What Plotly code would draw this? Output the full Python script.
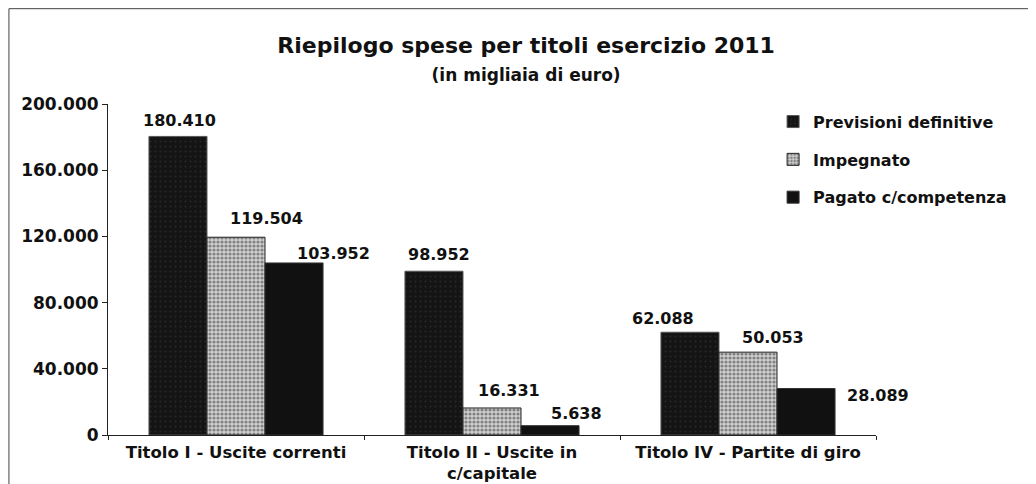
import plotly.graph_objects as go

# Data (in migliaia di euro)
categories = ["Titolo I - Uscite correnti", "Titolo II - Uscite in<br>c/capitale", "Titolo IV - Partite di giro"]
series_names = ["Previsioni definitive", "Impegnato", "Pagato c/competenza"]
previsioni = [180410, 98952, 62088]
impegnato = [119504, 16331, 50053]
pagato = [103952, 5638, 28089]

FONT = "DejaVu Sans"

# label nudges (px) as placed by hand in the original: (dx from bar centre, dy above bar top)
label_nudges = [
    [(2, 16), (5, 17), (-27, 14)],
    [(30, 19), (17, 17), (25, 15)],
    [(39, 9), (26, 12), (72, -7)],
]

PLOT_W = 768
BARGAP = 0.32
bar_px = PLOT_W / len(categories) * (1 - BARGAP) / 3

fig = go.Figure()

fig.add_trace(go.Bar(
    name=series_names[0],
    x=categories, y=previsioni,
    marker=dict(color="#161616", line=dict(color="#555", width=1),
                pattern=dict(shape=".", fgcolor="#3a3a3a", bgcolor="#141414", size=5, solidity=0.15)),
    legendgroup="a",
))
fig.add_trace(go.Bar(
    name=series_names[1],
    x=categories, y=impegnato,
    marker=dict(color="#bdbdbd", line=dict(color="#222", width=1),
                pattern=dict(shape=".", fgcolor="#333333", bgcolor="#cfcfcf", size=4, solidity=0.5)),
    legendgroup="b",
))
fig.add_trace(go.Bar(
    name=series_names[2],
    x=categories, y=pagato,
    marker=dict(color="#111111", line=dict(color="#333", width=1)),
    legendgroup="c",
))

# value labels
for s, values in enumerate([previsioni, impegnato, pagato]):
    for c, (cat, v) in enumerate(zip(categories, values)):
        dx, dy = label_nudges[s][c]
        fig.add_annotation(
            x=cat, y=v, xref="x", yref="y",
            text=f"{v:,}".replace(",", "."),
            showarrow=False, xanchor="center", yanchor="middle",
            xshift=(s - 1) * bar_px + dx, yshift=dy,
            font=dict(family=FONT, size=16, color="#111", weight="bold"),
        )

# the page body adds an 8px margin, so the figure is drawn slightly smaller
fig.update_layout(
    width=1028, height=476,
    separators=",.",
    barmode="group",
    bargap=BARGAP,
    bargroupgap=0,
    plot_bgcolor="white",
    paper_bgcolor="white",
    font=dict(family=FONT, color="#111"),
    margin=dict(l=100, r=160, t=96, b=49, autoexpand=False),
    title=dict(
        text="<b>Riepilogo spese per titoli esercizio 2011</b><br>"
             "<span style='font-size:17px'><b>(in migliaia di euro)</b></span>",
        x=0.504, xanchor="center", y=0.906, yanchor="top",
        font=dict(family=FONT, size=22, color="#111"),
    ),
    xaxis=dict(
        range=[-0.5, len(categories) - 0.5],
        showline=True, linecolor="#222", linewidth=1,
        ticks="outside", tickson="boundaries", ticklen=4, tickcolor="#222",
        ticklabelstandoff=2,
        tickfont=dict(family=FONT, size=16.5, color="#111", weight="bold"),
        showgrid=False, automargin=False,
    ),
    yaxis=dict(
        range=[0, 200000], dtick=40000, tickformat=",d",
        showline=True, linecolor="#222", linewidth=1,
        ticks="outside", ticklen=5, tickcolor="#222",
        tickfont=dict(family=FONT, size=17, color="#111", weight="bold"),
        showgrid=False, zeroline=False, automargin=False,
    ),
    legend=dict(
        x=0.866, y=0.998, xanchor="left", yanchor="top",
        font=dict(family=FONT, size=16, color="#111", weight="bold"),
        traceorder="grouped", tracegroupgap=14,
        itemwidth=30, bgcolor="rgba(0,0,0,0)",
    ),
)

# outer frame of the scanned chart
fig.add_shape(type="rect", xref="paper", yref="paper",
              x0=-0.129, x1=1.2, y0=-0.25, y1=1.288,
              line=dict(color="#444", width=1))

fig.write_html("out.html")
